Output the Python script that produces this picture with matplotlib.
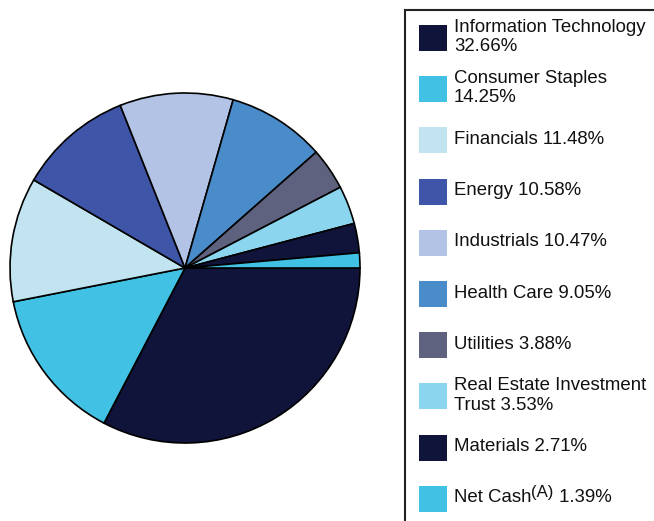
import matplotlib.pyplot as plt
from matplotlib.patches import Rectangle

sectors = ['Information Technology', 'Consumer Staples', 'Financials', 'Energy',
           'Industrials', 'Health Care', 'Utilities',
           'Real Estate Investment Trust', 'Materials', 'Net Cash']
weights = [32.66, 14.25, 11.48, 10.58, 10.47, 9.05, 3.88, 3.53, 2.71, 1.39]
colors = ['#10143a', '#41c1e3', '#c2e4f1', '#3f55a7', '#b3c3e5',
          '#4a8bc9', '#5e627f', '#8bd5ee', '#10143a', '#41c1e3']
labels = ['Information Technology\n32.66%', 'Consumer Staples\n14.25%',
          'Financials 11.48%', 'Energy 10.58%', 'Industrials 10.47%',
          'Health Care 9.05%', 'Utilities 3.88%',
          'Real Estate Investment\nTrust 3.53%', 'Materials 2.71%', None]

W, H = 654, 521
fig = plt.figure(figsize=(W / 100, H / 100), dpi=100)
plt.rcParams['font.family'] = ['Liberation Sans', 'DejaVu Sans']

# pie: centre (185, 268) px, radius 175 px
ax = fig.add_axes([10 / W, (H - 268 - 175) / H, 350 / W, 350 / H])
ax.pie(weights, colors=colors, startangle=0, counterclock=False,
       wedgeprops=dict(edgecolor='black', linewidth=1.2))
ax.set_xlim(-1, 1)
ax.set_ylim(-1, 1)
ax.axis('off')

# legend frame
fig.patches.append(Rectangle((405 / W, -0.1), 0.5, (H - 10) / H + 0.1,
                             transform=fig.transFigure, fill=False,
                             edgecolor='#222222', linewidth=1.5))

fs = 13.4
y0 = 38
step = 51.2
for i in range(len(sectors)):
    yc = y0 + i * step
    fig.patches.append(Rectangle((419 / W, 1 - (yc + 13) / H), 28 / W, 26 / H,
                                 transform=fig.transFigure,
                                 facecolor=colors[i], edgecolor='none'))
    if labels[i] is not None:
        fig.text(454 / W, 1 - (yc - 1) / H, labels[i], fontsize=fs,
                 va='center', ha='left', linespacing=1.17, color='#111111')

# Net Cash with superscript
yc = y0 + 9 * step
r = fig.canvas.get_renderer()
t1 = fig.text(454 / W, 1 - (yc - 1) / H, 'Net Cash', fontsize=fs,
              va='center', ha='left', color='#111111')
x1 = t1.get_window_extent(r).x1
t2 = fig.text(x1 / W, 1 - (yc - 6) / H, '(A)', fontsize=fs * 0.9,
              va='center', ha='left', color='#111111')
x2 = t2.get_window_extent(r).x1
fig.text(x2 / W, 1 - (yc - 1) / H, ' 1.39%', fontsize=fs,
         va='center', ha='left', color='#111111')

fig.savefig('out.png', dpi=100)
